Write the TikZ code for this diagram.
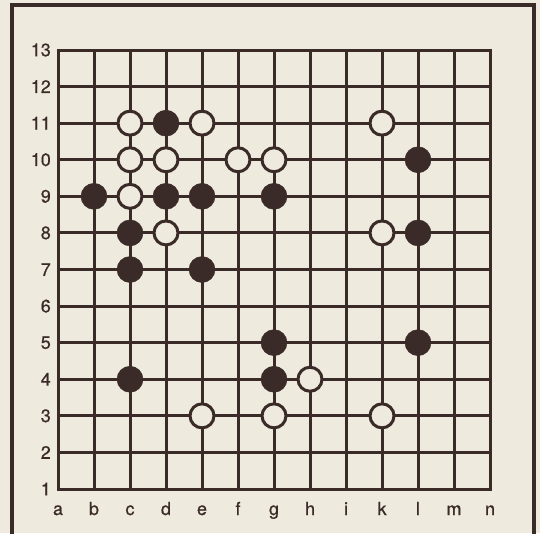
\documentclass[tikz,border=0pt]{standalone}
\usepackage{fontspec}
\setmainfont{TeX Gyre Heros}[FakeBold=0.6]
\definecolor{paper}{HTML}{EEEADD}
\definecolor{ink}{HTML}{3A2B29}
\begin{document}
\begin{tikzpicture}[x=1pt,y=-1pt,
  gridline/.style={ink,line width=3pt},
  black stone/.style={circle,fill=ink,draw=ink,line width=0.5pt,minimum size=26pt,inner sep=0pt},
  white stone/.style={circle,fill=paper,draw=ink,line width=3pt,minimum size=24pt,inner sep=0pt},
  lab/.style={ink,font=\fontsize{18}{18}\selectfont,inner sep=0pt}]
\fill[paper] (0,0) rectangle (540,533);
\useasboundingbox (0,0) rectangle (540,533);
\draw[ink,line width=3.2pt] (12,545) -- (12,5) -- (534,5) -- (534,545);
% grid
\foreach \i in {0,...,12} {
  \draw[gridline] ({58+36*\i},50) -- ({58+36*\i},489);
  \draw[gridline] (58,{489-439/12*\i}) -- (490,{489-439/12*\i});
}
\draw[gridline,line cap=rect] (58,50) rectangle (490,489);
% row labels
\foreach \r in {1,...,13} {
  \node[lab,anchor=east] (row\r) at (51,{489-439/12*(\r-1)}) {\r};
}
% column labels
\foreach \c [count=\i from 0] in {a,b,c,d,e,f,g,h,i,k,l,m,n} {
  \node[lab,anchor=base] (col\c) at ({58+36*\i},515) {\c};
}
% stones
\foreach \c/\r [count=\k] in {3/11,1/9,3/9,4/9,6/9,2/8,2/7,4/7,10/10,10/8,6/5,10/5,2/4,6/4} {
  \node[black stone] (b\k) at ({58+36*\c},{489-439/12*(\r-1)}) {};
}
\foreach \c/\r [count=\k] in {2/11,4/11,2/10,3/10,5/10,6/10,2/9,3/8,9/11,9/8,7/4,4/3,6/3,9/3} {
  \node[white stone] (w\k) at ({58+36*\c},{489-439/12*(\r-1)}) {};
}
\end{tikzpicture}
\end{document}
